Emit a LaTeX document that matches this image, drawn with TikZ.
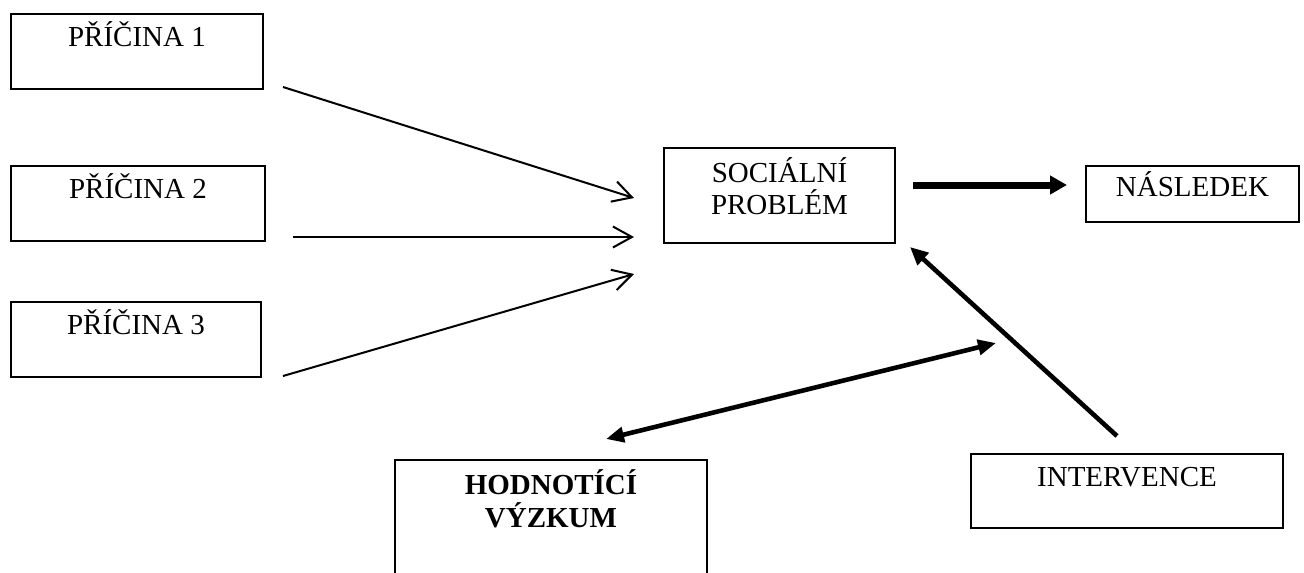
\documentclass[tikz,border=0pt]{standalone}
\usepackage{fontspec}
\setmainfont{Liberation Serif}
\usetikzlibrary{arrows.meta}
\begin{document}
\begin{tikzpicture}[x=1pt,y=-1pt,
  box/.style={draw, line width=1.7pt, inner sep=0pt},
  lbl/.style={anchor=base, inner sep=0pt, font=\fontsize{29}{33}\selectfont},
  thinarrow/.style={line width=2pt, -{Straight Barb[length=19pt,width=21pt]}},
  thickarrow/.style={line width=4.6pt, -{Triangle[length=18pt,width=16pt]}},
  boldarrow/.style={line width=7pt, -{Triangle[length=17pt,width=18pt]}},
  dblarrow/.style={line width=4.6pt, {Triangle[length=18pt,width=15pt]}-{Triangle[length=18pt,width=15pt]}}
]
\fill[white] (0,0) rectangle (1304,573);
\clip (0,0) rectangle (1304,573);

% boxes
\node[box, minimum width=252pt, minimum height=75pt] (p1) at (137,51.5) {};
\node[box, minimum width=254pt, minimum height=75pt] (p2) at (138,203.5) {};
\node[box, minimum width=250pt, minimum height=75pt] (p3) at (136,339.5) {};
\node[box, minimum width=231pt, minimum height=95pt] (soc) at (779.5,195.5) {};
\node[box, minimum width=213pt, minimum height=56pt] (nas) at (1192.5,194) {};
\node[box, minimum width=312pt, minimum height=150pt] (hod) at (551,535) {};
\node[box, minimum width=312pt, minimum height=74pt] (int) at (1127,491) {};

% labels
\node[lbl] (t1) at ([yshift=-33pt]p1.north) {PŘÍČINA 1};
\node[lbl] (t2) at ([yshift=-33pt]p2.north) {PŘÍČINA 2};
\node[lbl] (t3) at ([yshift=-33pt]p3.north) {PŘÍČINA 3};
\node[lbl] (ts1) at ([yshift=-35pt]soc.north) {SOCIÁLNÍ};
\node[lbl] (ts2) at ([yshift=-67pt]soc.north) {PROBLÉM};
\node[lbl] (tn) at ([yshift=-31pt]nas.north) {NÁSLEDEK};
\node[lbl, font=\fontsize{29}{33}\selectfont\bfseries] (th1) at ([yshift=-35pt]hod.north) {HODNOTÍCÍ};
\node[lbl, font=\fontsize{29}{33}\selectfont\bfseries] (th2) at ([yshift=-68pt]hod.north) {VÝZKUM};
\node[lbl] (ti) at ([yshift=-33pt]int.north) {INTERVENCE};

% connector ends
\coordinate (a1s) at (283,87);
\coordinate (a1e) at (634,198);
\coordinate (a2s) at (293,237);
\coordinate (a2e) at (634,237);
\coordinate (a3s) at (283,376);
\coordinate (a3e) at (634,274);
\coordinate (ns) at (913,185);
\coordinate (ne) at (1067,185);
\coordinate (is) at (1117,436);
\coordinate (ie) at (910,247);
\coordinate (hl) at (606,439);
\coordinate (hr) at (996,343);

% connectors
\draw[thinarrow] (a1s) -- (a1e);
\draw[thinarrow] (a2s) -- (a2e);
\draw[thinarrow] (a3s) -- (a3e);
\draw[boldarrow] (ns) -- (ne);
\draw[thickarrow] (is) -- (ie);
\draw[dblarrow] (hl) -- (hr);
\end{tikzpicture}
\end{document}
